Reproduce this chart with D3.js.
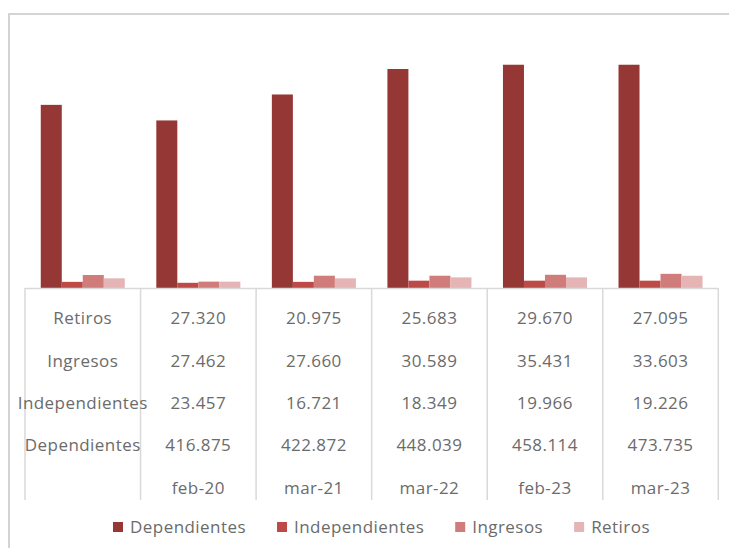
<!DOCTYPE html>
<html>
<head>
<meta charset="utf-8">
<script src="https://cdn.jsdelivr.net/npm/d3@7"></script>
<style>
  body { margin: 0; background: #fff; }
  svg { display: block; font-family: "Open Sans", "Noto Sans", sans-serif; }
</style>
</head>
<body>
<div id="chart"></div>
<script>
// columns of the chart (first column holds the row labels of the data table)
var columns = ["", "feb-20", "mar-21", "mar-22", "feb-23", "mar-23"];
var series = ["Dependientes", "Independientes", "Ingresos", "Retiros"];

// bar heights as drawn in the picture (estimated)
var barDependientes   = [388, 355, 410, 464, 473, 473];
var barIndependientes = [13, 11, 13, 15.5, 15.5, 15.5];
var barIngresos       = [27.5, 13.5, 26, 26, 28, 30];
var barRetiros        = [20.5, 13.5, 20.5, 22.5, 22.5, 26];

// data table values
var periods = ["feb-20", "mar-21", "mar-22", "feb-23", "mar-23"];
var tblRetiros        = ["27.320", "20.975", "25.683", "29.670", "27.095"];
var tblIngresos       = ["27.462", "27.660", "30.589", "35.431", "33.603"];
var tblIndependientes = ["23.457", "16.721", "18.349", "19.966", "19.226"];
var tblDependientes   = ["416.875", "422.872", "448.039", "458.114", "473.735"];

var colors = ["#953735", "#bd4a47", "#d07c7a", "#e4b5b4"];

var w = 729, h = 548;
var svg = d3.select("#chart").append("svg")
    .attr("width", w)
    .attr("height", h);

// chart frame
svg.append("rect")
    .attr("x", 9).attr("y", 14)
    .attr("width", w + 10).attr("height", h + 10)
    .attr("fill", "#fff")
    .attr("stroke", "#d4d4d4")
    .attr("stroke-width", 2);

var x0 = d3.scaleBand()
    .domain(columns)
    .range([25, 718.3]);

var x1 = d3.scaleBand()
    .domain(series)
    .range([0, x0.bandwidth()])
    .paddingOuter(0.75);

var y = d3.scaleLinear()
    .domain([0, 500])
    .range([288, 52]);

var barData = [barDependientes, barIndependientes, barIngresos, barRetiros];

var groups = svg.selectAll("g.grp")
    .data(columns)
    .enter()
    .append("g")
    .attr("class", "grp")
    .attr("transform", function(d) { return "translate(" + x0(d) + ",0)"; });

groups.selectAll("rect")
    .data(function(d, i) {
        return series.map(function(s, k) {
            return { s: s, v: barData[k][i], k: k };
        });
    })
    .enter()
    .append("rect")
    .attr("x", function(d) { return x1(d.s); })
    .attr("y", function(d) { return y(d.v); })
    .attr("width", x1.bandwidth())
    .attr("height", function(d) { return y(0) - y(d.v); })
    .attr("fill", function(d) { return colors[d.k]; });

// data table lines
var lineColor = "#d9d9d9";
svg.append("line")
    .attr("x1", 25).attr("x2", 718.3)
    .attr("y1", 288.5).attr("y2", 288.5)
    .attr("stroke", lineColor).attr("stroke-width", 1.5);

var edges = columns.map(function(c) { return x0(c); }).concat([x0.range()[1]]);
svg.selectAll("line.vl")
    .data(edges)
    .enter()
    .append("line")
    .attr("class", "vl")
    .attr("x1", function(d) { return d; })
    .attr("x2", function(d) { return d; })
    .attr("y1", 288)
    .attr("y2", 500)
    .attr("stroke", lineColor)
    .attr("stroke-width", 1.5);

// table rows
var rowLabels = ["Retiros", "Ingresos", "Independientes", "Dependientes", ""];
var rowValues = [tblRetiros, tblIngresos, tblIndependientes, tblDependientes, periods];
var rowY = d3.scaleLinear().domain([0, 4]).range([318.3, 487.7]);
var textColor = "#6b6b6b";
var fs = 17;
var ls = 0.45;

rowLabels.forEach(function(lab, r) {
    var cells = [lab].concat(rowValues[r]);
    svg.selectAll("text.r" + r)
        .data(cells)
        .enter()
        .append("text")
        .attr("class", "r" + r)
        .attr("x", function(d, i) { return x0(columns[i]) + x0.bandwidth() / 2; })
        .attr("y", rowY(r))
        .attr("dy", "0.35em")
        .attr("text-anchor", "middle")
        .attr("font-size", fs)
        .attr("letter-spacing", ls)
        .attr("fill", textColor)
        .text(function(d) { return d; });
});

// legend
var legend = svg.append("g");
var lx = 113;
series.forEach(function(s, k) {
    legend.append("rect")
        .attr("x", lx).attr("y", 522)
        .attr("width", 10).attr("height", 10)
        .attr("fill", colors[k]);
    var t = legend.append("text")
        .attr("x", lx + 17)
        .attr("y", 527)
        .attr("dy", "0.35em")
        .attr("font-size", fs)
        .attr("letter-spacing", ls)
        .attr("fill", textColor)
        .text(s);
    lx += 17 + t.node().getComputedTextLength() + 31;
});
</script>
</body>
</html>
